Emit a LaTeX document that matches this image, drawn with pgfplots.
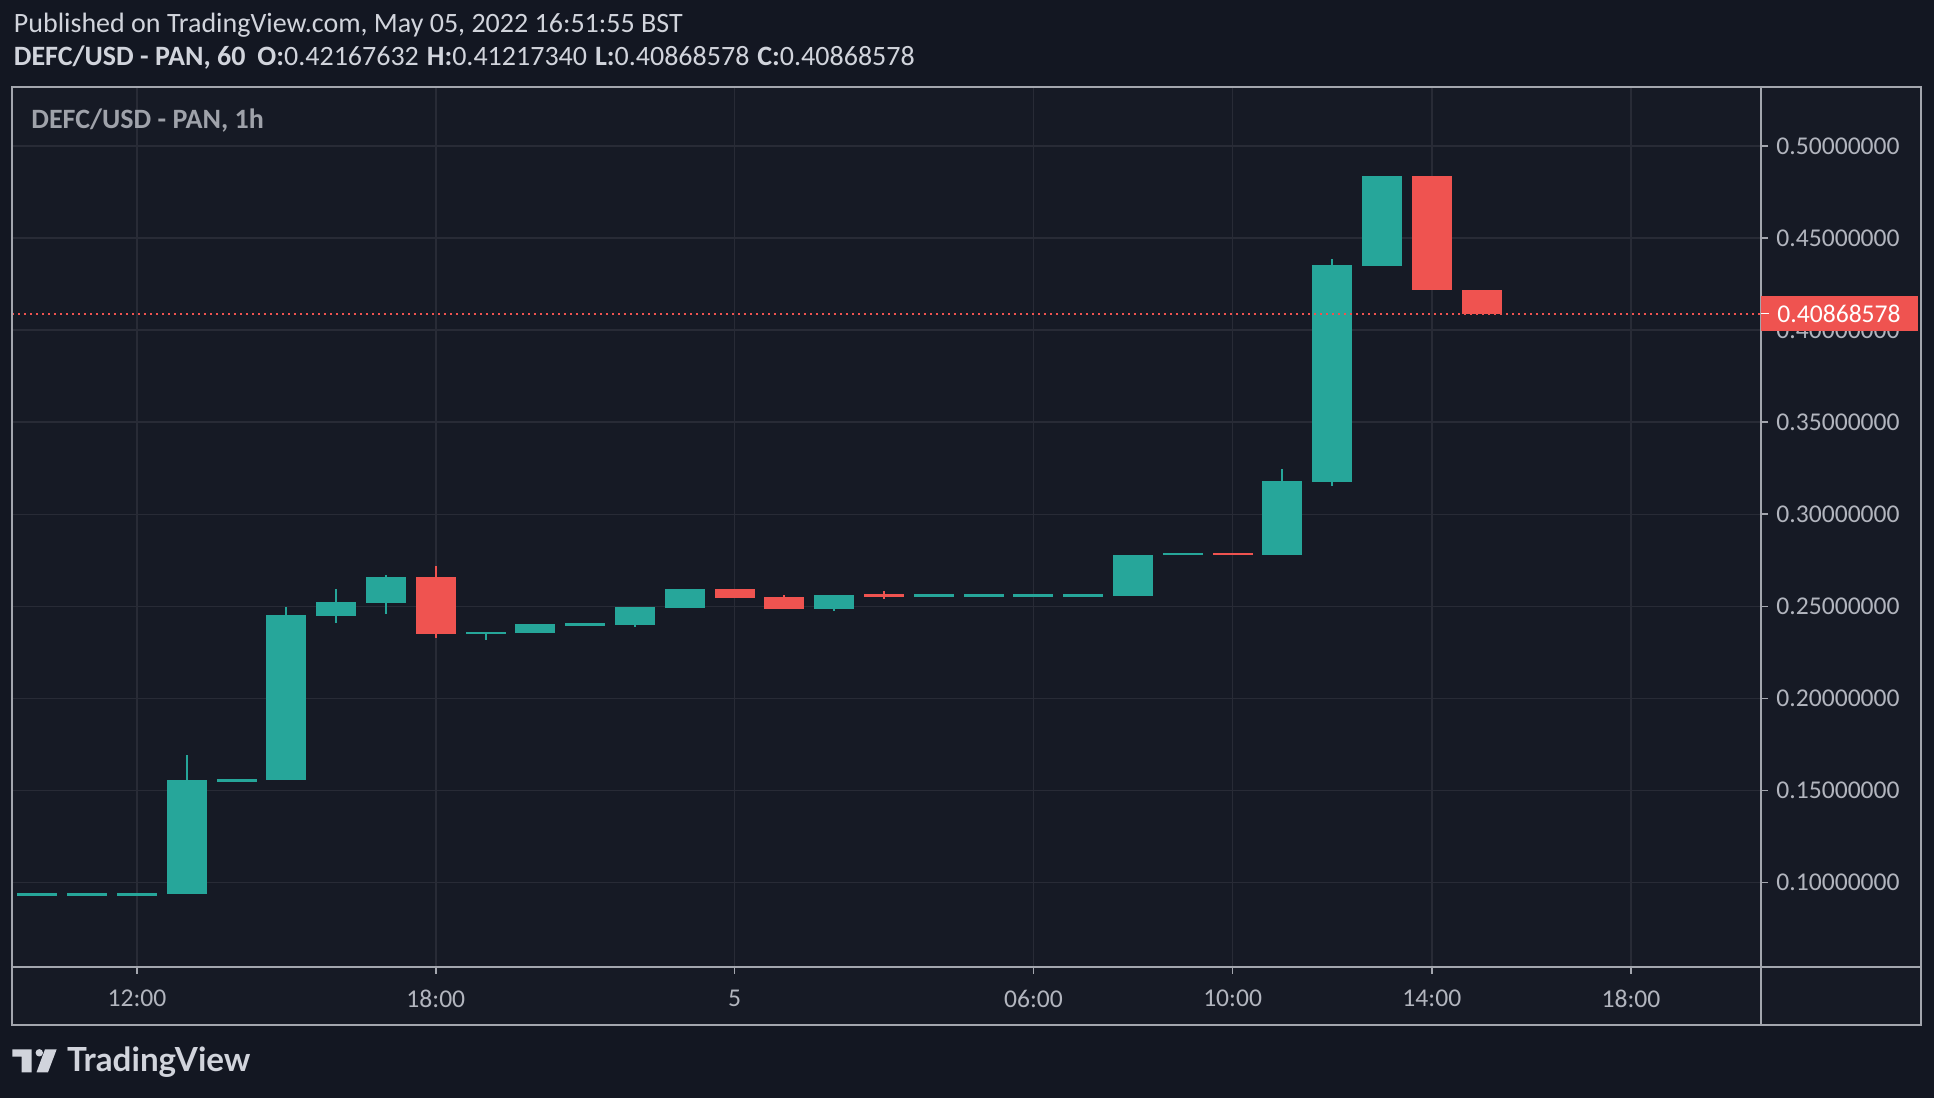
\documentclass[border=0pt]{standalone}
\usepackage{pgfplots}
\usepackage{pgfplotstable}
\pgfplotsset{compat=1.18}
\usepackage{fontspec}
\setmainfont{Carlito}
\newfontfamily\lato{Lato}
\definecolor{bgout}{HTML}{131722}
\definecolor{bgin}{HTML}{161A25}
\definecolor{gridc}{HTML}{282B36}
\definecolor{framec}{HTML}{A3A6AE}
\definecolor{txt}{HTML}{D1D4DC}
\definecolor{lbl}{HTML}{B2B5BE}
\definecolor{ttl}{HTML}{9FA2AA}
\definecolor{tvgreen}{HTML}{26A69A}
\definecolor{tvred}{HTML}{EF5350}
\newcommand\lblfont{\fontsize{12.8}{14}\selectfont}

\pgfplotstableread{
x o h l c
-2 0.0934 0.0934 0.0934 0.0934
-1 0.0934 0.0934 0.0934 0.0934
0 0.0934 0.0934 0.0934 0.0934
1 0.0935 0.1692 0.0935 0.1557
2 0.1555 0.1555 0.1555 0.1555
3 0.1555 0.2496 0.1555 0.2453
4 0.2449 0.2594 0.2411 0.2523
5 0.2520 0.2670 0.2460 0.2659
7 0.2351 0.2360 0.2319 0.2360
8 0.2357 0.2404 0.2357 0.2404
9 0.2402 0.2402 0.2402 0.2402
10 0.2401 0.2496 0.2390 0.2496
11 0.2493 0.2594 0.2493 0.2594
14 0.2486 0.2562 0.2476 0.2562
16 0.2560 0.2560 0.2560 0.2560
17 0.2560 0.2560 0.2560 0.2560
18 0.2560 0.2560 0.2560 0.2560
19 0.2560 0.2560 0.2560 0.2560
20 0.2556 0.2779 0.2556 0.2779
21 0.2784 0.2784 0.2784 0.2784
23 0.2777 0.3246 0.2777 0.3181
24 0.3175 0.4386 0.3153 0.4354
25 0.4348 0.4837 0.4348 0.4837
}\greendata

\pgfplotstableread{
x o h l c
6 0.2659 0.2719 0.2330 0.2351
12 0.2594 0.2594 0.2545 0.2545
13 0.2551 0.2562 0.2486 0.2486
15 0.2562 0.2583 0.2540 0.2558
22 0.2786 0.2786 0.2782 0.2782
26 0.4837 0.4837 0.4217 0.4217
27 0.42167632 0.42167632 0.40868578 0.40868578
}\reddata

\begin{document}
\begin{tikzpicture}[x=0.5pt,y=0.5pt]
\fill[bgout] (0,0) rectangle (1934,1098);
\fill[bgin] (12,73) rectangle (1921,1011);
\begin{axis}[
  at={(6.15pt,65.65pt)}, anchor=south west,
  scale only axis, width=874.35pt, height=439.85pt,
  xmin=-2.504, xmax=32.61, ymin=0.05427, ymax=0.53204,
  axis line style={draw=none},
  grid=major, major grid style={gridc, line width=0.7pt},
  xtick={0,6,12,18,22,26,30},
  xticklabels={12:00,18:00,5,06:00,10:00,14:00,18:00},
  ytick={0.1,0.15,0.2,0.25,0.3,0.35,0.4,0.45,0.5},
  yticklabels={0.10000000,0.15000000,0.20000000,0.25000000,0.30000000,0.35000000,0.40000000,0.45000000,0.50000000},
  xtick pos=bottom, ytick pos=right, yticklabel pos=right,
  tick align=outside, major tick length=3.5pt,
  tick style={framec, line width=0.8pt},
  xticklabel style={font=\lblfont, text=lbl, anchor=center, yshift=-12.5pt},
  yticklabel style={font=\lblfont, text=lbl, anchor=west, inner sep=0pt, xshift=4pt},
  clip=true,
]
% wicks
\addplot[draw=none, no markers, error bars/.cd, y dir=both, y explicit, error mark=none,
  error bar style={draw=tvgreen, line width=1pt}]
  table[x=x, y expr={(\thisrow{h}+\thisrow{l})/2}, y error expr={(\thisrow{h}-\thisrow{l})/2}] {\greendata};
\addplot[draw=none, no markers, error bars/.cd, y dir=both, y explicit, error mark=none,
  error bar style={draw=tvred, line width=1pt}]
  table[x=x, y expr={(\thisrow{h}+\thisrow{l})/2}, y error expr={(\thisrow{h}-\thisrow{l})/2}] {\reddata};
% bodies
\addplot[draw=none, no markers, error bars/.cd, y dir=both, y explicit, error mark=none,
  error bar style={draw=tvgreen, line width=20pt}]
  table[x=x, y expr={(\thisrow{o}+\thisrow{c})/2}, y error expr={max(abs(\thisrow{c}-\thisrow{o})/2,0.00075)}] {\greendata};
\addplot[draw=none, no markers, error bars/.cd, y dir=both, y explicit, error mark=none,
  error bar style={draw=tvred, line width=20pt}]
  table[x=x, y expr={(\thisrow{o}+\thisrow{c})/2}, y error expr={max(abs(\thisrow{c}-\thisrow{o})/2,0.00075)}] {\reddata};
% last price line
\addplot[tvred, line width=1pt, dash pattern=on 1pt off 2pt] coordinates {(-2.504,0.40868578) (32.61,0.40868578)};
\end{axis}
% frame
\draw[framec, line width=0.9pt] (12,73) rectangle (1921,1011);
\draw[framec, line width=0.9pt] (1761,73) -- (1761,1011);
\draw[framec, line width=0.9pt] (12,131.3) -- (1921,131.3);
% price label
\fill[tvred] (1761,767) rectangle (1918,802);
\draw[white, line width=0.8pt] (1761,784.5) -- (1769,784.5);
\node[anchor=west, inner sep=0pt, text=white, font=\lblfont] at (1777,784.5) {0.40868578};
% header
\node[anchor=base west, inner sep=0pt, text=txt, font=\fontsize{14}{16}\selectfont] at (13.5,1065.7) {Published on TradingView.com, May 05, 2022 16:51:55 BST};
\node[anchor=base west, inner sep=0pt, text=txt, font=\fontsize{14}{16}\selectfont] at (13.5,1032.3) {\textbf{DEFC/USD - PAN, 60}\hspace{6pt}\textbf{O:}0.42167632\hspace{4pt}\textbf{H:}0.41217340\hspace{4pt}\textbf{L:}0.40868578\hspace{4pt}\textbf{C:}0.40868578};
% chart title
\node[anchor=base west, inner sep=0pt, text=ttl, font=\fontsize{14}{16}\selectfont\bfseries] at (31,969) {DEFC/USD - PAN, 1h};
% logo
\fill[txt] (12.3,48.7) -- (31.5,48.7) -- (31.5,25.7) -- (21.5,25.7) -- (21.5,41.3) -- (12.3,41.3) -- cycle;
\fill[txt] (39.3,45.2) circle (3.7);
\fill[txt] (45,48.7) -- (56.7,48.7) -- (48,25.7) -- (36.5,25.7) -- cycle;
\node[anchor=base west, inner sep=0pt, text=txt, font=\lato\bfseries\fontsize{16.6}{18}\selectfont] at (66.7,26) {TradingView};
\pgfresetboundingbox
\path[use as bounding box] (0,0) rectangle (1934,1098);
\end{tikzpicture}
\end{document}
